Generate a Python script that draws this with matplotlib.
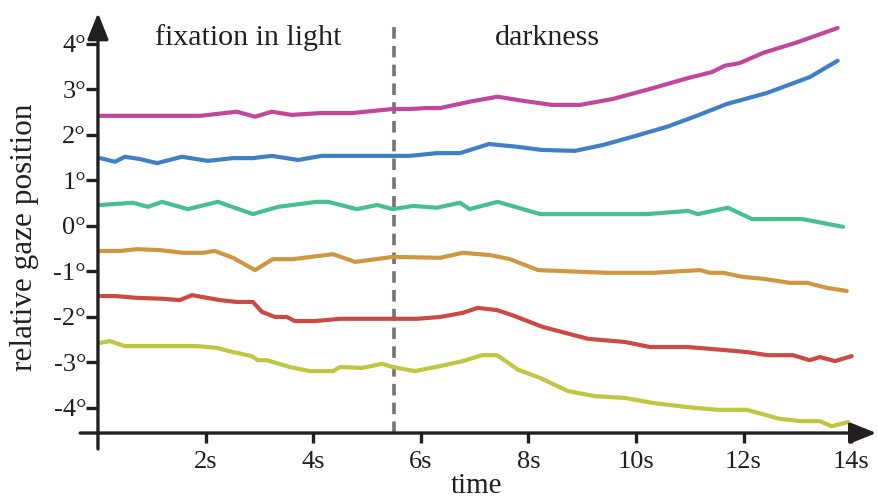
import matplotlib
matplotlib.use("Agg")
import matplotlib.pyplot as plt

# ---------------- data ----------------
magenta_t = [0.04, 1.9, 2.58, 2.92, 3.23, 3.6, 4.13, 4.72, 5.48, 5.8, 6.1, 6.36, 6.91, 7.43, 7.9,
             8.44, 8.96, 9.57, 10.26, 10.97, 11.41, 11.65, 11.93, 12.36, 13.01, 13.75]
magenta_v = [2.42, 2.42, 2.51, 2.40, 2.51, 2.44, 2.48, 2.48, 2.57, 2.57, 2.59, 2.59, 2.73, 2.84, 2.75,
             2.66, 2.66, 2.79, 3.01, 3.25, 3.38, 3.52, 3.58, 3.80, 4.04, 4.35]

blue_t = [0.04, 0.32, 0.50, 0.78, 1.10, 1.56, 2.04, 2.51, 2.88, 3.23, 3.72, 4.16, 5.48, 5.80, 6.30,
          6.73, 7.27, 7.79, 8.25, 8.87, 9.39, 9.94, 10.58, 11.13, 11.69, 12.43, 13.23, 13.75]
blue_v = [1.49, 1.41, 1.52, 1.47, 1.38, 1.52, 1.43, 1.49, 1.49, 1.54, 1.45, 1.54, 1.54, 1.54, 1.60,
          1.60, 1.80, 1.74, 1.67, 1.65, 1.78, 1.96, 2.18, 2.42, 2.68, 2.92, 3.27, 3.63]

green_t = [0.04, 0.65, 0.93, 1.19, 1.67, 2.23, 2.88, 3.35, 4.07, 4.28, 4.81, 5.19, 5.48, 5.86, 6.30,
           6.73, 6.91, 7.43, 8.22, 10.20, 10.97, 11.15, 11.71, 12.16, 13.10, 13.85]
green_v = [0.46, 0.51, 0.42, 0.53, 0.37, 0.53, 0.26, 0.42, 0.53, 0.53, 0.37, 0.46, 0.37, 0.44, 0.40,
           0.51, 0.37, 0.53, 0.26, 0.26, 0.33, 0.26, 0.40, 0.15, 0.15, -0.02]

orange_t = [0.04, 0.41, 0.72, 1.15, 1.58, 1.95, 2.17, 2.51, 2.92, 3.25, 3.62, 4.37, 4.78, 5.48, 6.36,
            6.78, 7.29, 7.66, 8.18, 9.46, 10.32, 11.19, 11.38, 11.62, 11.99, 12.36, 12.86, 13.18,
            13.55, 13.92]
orange_v = [-0.55, -0.55, -0.51, -0.53, -0.59, -0.59, -0.55, -0.70, -0.97, -0.73, -0.73, -0.62, -0.79,
            -0.68, -0.70, -0.59, -0.64, -0.73, -0.97, -1.03, -1.03, -0.97, -1.03, -1.03, -1.12, -1.16,
            -1.25, -1.25, -1.36, -1.43]

red_t = [0.04, 0.32, 0.72, 1.21, 1.52, 1.75, 2.03, 2.27, 2.58, 2.88, 3.05, 3.29, 3.51, 3.66, 4.03,
         4.50, 5.00, 5.93, 6.36, 6.78, 7.06, 7.42, 7.70, 8.27, 9.11, 9.80, 10.26, 10.95, 11.38, 12.06,
         12.45, 12.92, 13.23, 13.42, 13.70, 14.01]
red_v = [-1.54, -1.54, -1.58, -1.60, -1.63, -1.52, -1.58, -1.63, -1.67, -1.67, -1.89, -2.00, -2.00,
         -2.09, -2.09, -2.04, -2.04, -2.04, -2.00, -1.91, -1.80, -1.85, -1.96, -2.22, -2.48, -2.55,
         -2.66, -2.66, -2.70, -2.77, -2.84, -2.84, -2.95, -2.88, -2.97, -2.86]

yellow_t = [0.04, 0.22, 0.50, 1.84, 2.21, 2.51, 2.86, 2.97, 3.14, 3.57, 3.94, 4.37, 4.50, 4.91, 5.28,
            5.48, 5.89, 6.36, 6.78, 7.14, 7.42, 7.81, 8.22, 8.74, 9.24, 9.80, 10.32, 10.95, 11.51,
            12.06, 12.68, 13.08, 13.42, 13.64, 13.94]
yellow_v = [-2.57, -2.53, -2.64, -2.64, -2.68, -2.77, -2.86, -2.95, -2.95, -3.10, -3.19, -3.19, -3.10,
            -3.12, -3.03, -3.10, -3.19, -3.08, -2.97, -2.84, -2.84, -3.16, -3.34, -3.63, -3.74, -3.78,
            -3.89, -3.98, -4.04, -4.04, -4.24, -4.29, -4.29, -4.40, -4.31]

x_ticks = [2, 4, 6, 8, 10, 12, 14]
x_tick_labels = ["2s", "4s", "6s", "8s", "10s", "12s", "14s"]
y_ticks = [-4, -3, -2, -1, 0, 1, 2, 3, 4]
y_tick_labels = ["-4°", "-3°", "-2°", "-1°", "0°", "1°", "2°", "3°", "4°"]
switch_time = 5.5
phase_labels = ["fixation in light", "darkness"]

# ---------------- style ----------------
plt.rcParams['font.family'] = ['Liberation Serif', 'DejaVu Serif']
ink = '#231f20'
fs = 19

fig = plt.figure(figsize=(8.78, 5.0), dpi=100)
ax = fig.add_axes([0.084, 0.093, 0.916, 0.892])
ax.set_xlim(-0.45, 14.5)
ax.set_ylim(-5.0, 4.8)

series = [
    (magenta_t, magenta_v, '#c1479b'),
    (blue_t, blue_v, '#3f80c5'),
    (green_t, green_v, '#46c08f'),
    (orange_t, orange_v, '#cf9742'),
    (red_t, red_v, '#cb4a42'),
    (yellow_t, yellow_v, '#bfc63f'),
]
for t, v, c in series:
    ax.plot(t, v, color=c, lw=3.0, solid_capstyle='round', solid_joinstyle='round', zorder=3)

x_axis_y = -4.55
# dashed separator
ax.plot([switch_time, switch_time], [x_axis_y, 4.45], color='#7b7074', lw=2.6,
        dashes=(3.2, 2.0), zorder=2)

# axes with arrows
for s in ax.spines.values():
    s.set_visible(False)
ax.spines['left'].set_position(('data', 0))
ax.spines['bottom'].set_position(('data', x_axis_y))

arrow_kw = dict(arrowstyle='-|>,head_length=0.8,head_width=0.32', lw=2.4, color=ink,
                shrinkA=0, shrinkB=0, mutation_scale=20)
ax.annotate('', xy=(14.47, x_axis_y), xytext=(-0.33, x_axis_y), arrowprops=arrow_kw, zorder=4)
ax.annotate('', xy=(0, 4.68), xytext=(0, -4.9), arrowprops=arrow_kw, zorder=4)

ax.set_xticks(x_ticks)
ax.set_xticklabels(x_tick_labels)
ax.set_yticks(y_ticks)
ax.set_yticklabels(y_tick_labels)
ax.tick_params(axis='x', direction='out', length=7.2, width=2.4, color=ink, pad=6,
               labelsize=fs, labelcolor=ink)
ax.tick_params(axis='y', direction='out', length=8.6, width=2.4, color=ink, pad=0,
               labelsize=fs, labelcolor=ink)

# phase labels
ax.text(2.79, 3.98, phase_labels[0], ha='center', va='baseline', fontsize=21.6, color=ink)
ax.text(8.35, 3.98, phase_labels[1], ha='center', va='baseline', fontsize=21.6, color=ink)

# axis labels
fig.text(25 / 878, 1 - 237 / 500, 'relative gaze position', rotation=90, ha='center', va='center',
         fontsize=22.5, color=ink)
fig.text(477 / 878, 1 - 499 / 500, 'time', ha='center', va='bottom', fontsize=21, color=ink)

fig.savefig('out.png', dpi=100)
